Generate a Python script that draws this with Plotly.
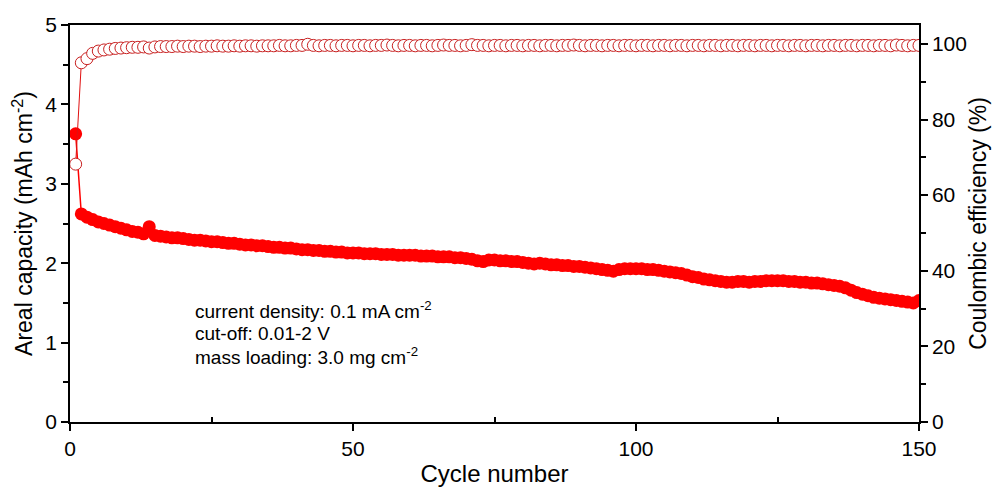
import plotly.graph_objects as go

cycles = list(range(1, 151))

capacity = [
    3.63, 2.62, 2.58, 2.55, 2.52, 2.50, 2.48, 2.46, 2.44, 2.42,
    2.40, 2.39, 2.37, 2.46, 2.35, 2.34, 2.33, 2.32, 2.32, 2.31,
    2.30, 2.29, 2.29, 2.28, 2.27, 2.27, 2.26, 2.25, 2.25, 2.24,
    2.23, 2.23, 2.22, 2.22, 2.21, 2.20, 2.20, 2.19, 2.19, 2.18,
    2.17, 2.17, 2.16, 2.16, 2.15, 2.15, 2.14, 2.14, 2.13, 2.13,
    2.13, 2.12, 2.12, 2.12, 2.11, 2.11, 2.11, 2.10, 2.10, 2.10,
    2.10, 2.09, 2.09, 2.09, 2.08, 2.08, 2.08, 2.07, 2.07, 2.06,
    2.05, 2.03, 2.02, 2.04, 2.04, 2.03, 2.03, 2.02, 2.02, 2.01,
    2.00, 1.99, 2.00, 1.99, 1.98, 1.98, 1.97, 1.97, 1.96, 1.96,
    1.95, 1.94, 1.93, 1.92, 1.91, 1.90, 1.92, 1.93, 1.93, 1.93,
    1.93, 1.92, 1.92, 1.91, 1.90, 1.89, 1.88, 1.87, 1.85, 1.83,
    1.82, 1.80, 1.79, 1.78, 1.77, 1.76, 1.76, 1.77, 1.77, 1.76,
    1.77, 1.77, 1.78, 1.78, 1.78, 1.78, 1.77, 1.77, 1.76, 1.76,
    1.75, 1.75, 1.74, 1.73, 1.72, 1.71, 1.69, 1.66, 1.63, 1.61,
    1.59, 1.57, 1.56, 1.55, 1.54, 1.53, 1.52, 1.51, 1.50, 1.53,
]

efficiency = [
    68.2, 95.0, 96.1, 97.5, 98.1, 98.4, 98.6, 98.8, 98.9, 99.0,
    99.1, 99.1, 99.2, 98.9, 99.2, 99.3, 99.3, 99.3, 99.4, 99.3,
    99.4, 99.4, 99.3, 99.4, 99.4, 99.5, 99.4, 99.4, 99.5, 99.4,
    99.5, 99.5, 99.4, 99.5, 99.5, 99.5, 99.6, 99.5, 99.5, 99.6,
    99.6, 99.9, 99.6, 99.5, 99.6, 99.6, 99.5, 99.6, 99.6, 99.5,
    99.6, 99.6, 99.5, 99.6, 99.6, 99.7, 99.6, 99.5, 99.6, 99.6,
    99.5, 99.6, 99.6, 99.5, 99.6, 99.7, 99.6, 99.6, 99.5, 99.6,
    99.8, 99.6, 99.6, 99.5, 99.6, 99.6, 99.5, 99.6, 99.6, 99.5,
    99.6, 99.6, 99.5, 99.6, 99.6, 99.5, 99.6, 99.6, 99.7, 99.6,
    99.5, 99.6, 99.6, 99.5, 99.6, 99.6, 99.5, 99.6, 99.6, 99.5,
    99.6, 99.6, 99.5, 99.6, 99.6, 99.5, 99.6, 99.6, 99.5, 99.6,
    99.6, 99.5, 99.6, 99.6, 99.5, 99.6, 99.6, 99.5, 99.6, 99.6,
    99.5, 99.6, 99.6, 99.5, 99.6, 99.6, 99.5, 99.6, 99.6, 99.5,
    99.6, 99.6, 99.5, 99.6, 99.6, 99.5, 99.6, 99.6, 99.5, 99.6,
    99.6, 99.5, 99.6, 99.6, 99.5, 99.7, 99.6, 99.5, 99.6, 99.6,
]

notes = [
    "current density: 0.1 mA cm<sup>-2</sup>",
    "cut-off: 0.01-2 V",
    "mass loading: 3.0 mg cm<sup>-2</sup>",
]
note_y = [0.282, 0.224, 0.166]

FONT = "Liberation Sans, Arial, sans-serif"

fig = go.Figure()
fig.add_trace(go.Scatter(
    x=cycles, y=efficiency, yaxis="y2", mode="lines+markers",
    line=dict(color="#e01010", width=1),
    marker=dict(symbol="circle", size=12, color="white",
                line=dict(color="#c82020", width=1)),
    showlegend=False,
))
fig.add_trace(go.Scatter(
    x=cycles, y=capacity, mode="lines+markers",
    line=dict(color="#ff0000", width=1.5),
    marker=dict(symbol="circle", size=13, color="#ff0000",
                line=dict(width=0)),
    showlegend=False,
))

for t, yy in zip(notes, note_y):
    fig.add_annotation(text=t, xref="paper", yref="paper", x=0.145, y=yy,
                       xanchor="left", yanchor="middle", showarrow=False,
                       font=dict(family=FONT, size=19, color="black"))

axis_common = dict(showgrid=False, zeroline=False, showline=True,
                   automargin=False,
                   linecolor="black", linewidth=1.5, ticks="outside",
                   ticklen=7, tickwidth=1.5, tickcolor="black",
                   tickfont=dict(family=FONT, size=21, color="black"))

fig.update_layout(
    width=993, height=490,
    margin=dict(l=70, r=74, t=25, b=68),
    paper_bgcolor="white", plot_bgcolor="white",
    xaxis=dict(range=[0, 150], tickvals=[0, 50, 100, 150], mirror=True,
               minor=dict(tickvals=[25, 75, 125], ticks="inside", ticklen=5,
                          tickcolor="black", tickwidth=1.5),
               title=dict(text="Cycle number", standoff=6,
                          font=dict(family=FONT, size=24, color="black")),
               **axis_common),
    yaxis=dict(range=[0, 5], tickvals=[0, 1, 2, 3, 4, 5],
               minor=dict(tickvals=[0.5, 1.5, 2.5, 3.5, 4.5], ticks="outside",
                          ticklen=5, tickcolor="black", tickwidth=1.5),
               title=dict(text="Areal capacity (mAh cm<sup>-2</sup>)", standoff=6,
                          font=dict(family=FONT, size=23, color="black")),
               **axis_common),
    yaxis2=dict(range=[0, 105], tickvals=[0, 20, 40, 60, 80, 100],
                overlaying="y", side="right",
                minor=dict(tickvals=[10, 30, 50, 70, 90], ticks="outside",
                           ticklen=5, tickcolor="black", tickwidth=1.5),
                title=dict(text="Coulombic efficiency (%)", standoff=4,
                           font=dict(family=FONT, size=23, color="black")),
                **axis_common),
)

fig.write_html("out.html")
